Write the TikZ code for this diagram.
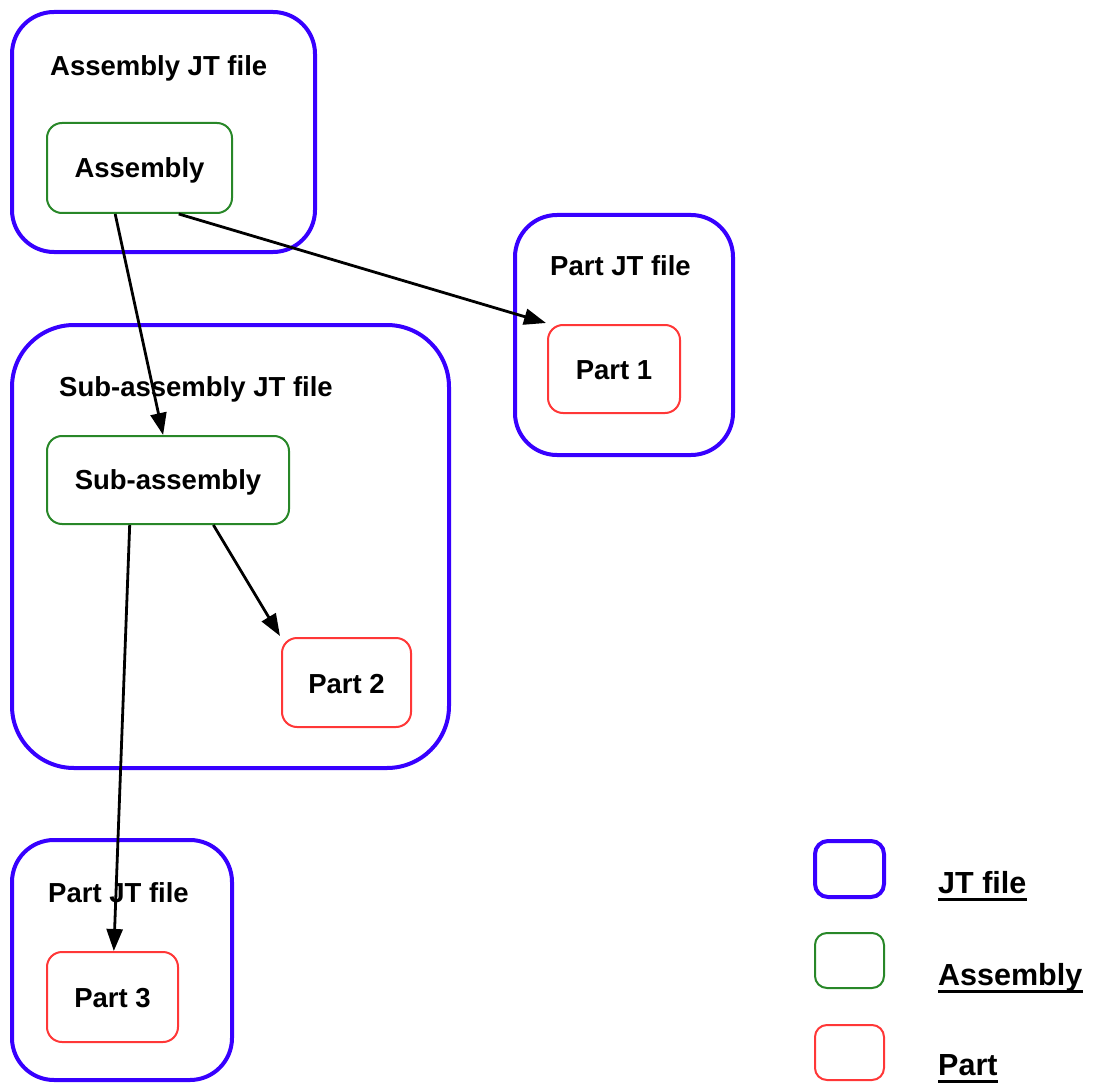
\documentclass[tikz,border=0pt]{standalone}
\usepackage{fontspec}
\setmainfont{Liberation Sans}
\usetikzlibrary{arrows.meta,calc}
\definecolor{jtblue}{RGB}{55,0,255}
\definecolor{asmgreen}{RGB}{40,135,40}
\definecolor{partred}{RGB}{255,55,55}
\tikzset{
  jtbox/.style={draw=jtblue, line width=4pt, rectangle, inner sep=0pt},
  asmbox/.style={draw=asmgreen, line width=2pt, rectangle, rounded corners=15pt, inner sep=0pt},
  partbox/.style={draw=partred, line width=2pt, rectangle, rounded corners=15pt, inner sep=0pt},
  lbl/.style={font=\fontsize{27.5}{33}\selectfont\bfseries, inner sep=0pt},
  leglbl/.style={font=\fontsize{30.5}{36}\selectfont\bfseries, inner sep=0pt},
  conn/.style={line width=2.8pt, -{Triangle[length=22pt,width=16pt]}},
  uline/.style={line width=3pt}
}
\begin{document}
\begin{tikzpicture}[x=1pt,y=-1pt]
\useasboundingbox (0,0) rectangle (1095,1086);
% JT file containers
\node[jtbox, rounded corners=42pt, minimum width=303pt, minimum height=240pt] (asmjt) at (163.5,132) {};
\node[jtbox, rounded corners=42pt, minimum width=218pt, minimum height=240pt] (p1jt) at (624,335) {};
\node[jtbox, rounded corners=62pt, minimum width=437pt, minimum height=443pt] (subjt) at (230.5,546.5) {};
\node[jtbox, rounded corners=42pt, minimum width=220pt, minimum height=240pt] (p3jt) at (122,960) {};
% titles
\node[lbl, anchor=base west] (tasm) at (50,76) {Assembly JT file};
\node[lbl, anchor=base west] (tp1) at (550,276) {Part JT file};
\node[lbl, anchor=base west] (tsub) at (59,396) {Sub-assembly JT file};
\node[lbl, anchor=base west] (tp3) at (48,902) {Part JT file};
% inner nodes
\node[asmbox, minimum width=185pt, minimum height=90pt] (asm) at (139.5,168) {};
\node[lbl] (asmt) at (139.5,170) {Assembly};
\node[asmbox, minimum width=242pt, minimum height=88pt] (sub) at (168,480) {};
\node[lbl] (subt) at (168,482) {Sub-assembly};
\node[partbox, minimum width=132pt, minimum height=88pt] (p1) at (614,369) {};
\node[lbl] (p1t) at (614,370) {Part 1};
\node[partbox, minimum width=129pt, minimum height=89pt] (p2) at (346.5,682.5) {};
\node[lbl] (p2t) at (346.5,684) {Part 2};
\node[partbox, minimum width=131pt, minimum height=90pt] (p3) at (112.5,997) {};
\node[lbl] (p3t) at (112.5,998) {Part 3};
% connectors
\draw[conn] ($(asm.south west)!0.37!(asm.south east)$) -- ($(sub.north west)!0.48!(sub.north east)$);
\draw[conn] ($(asm.south west)!0.71!(asm.south east)$) -- ([xshift=-1pt,yshift=1pt]p1.north west);
\draw[conn] ($(sub.south west)!0.686!(sub.south east)$) -- ([xshift=-1pt,yshift=1pt]p2.north west);
\draw[conn] ($(sub.south west)!0.343!(sub.south east)$) -- ($(p3.north west)!0.51!(p3.north east)$);
% legend
\node[jtbox, line width=4pt, rounded corners=13pt, minimum width=69pt, minimum height=56pt] (ljt) at (849.5,869) {};
\node[asmbox, rounded corners=12pt, minimum width=69pt, minimum height=55pt] (lasm) at (849.5,960.5) {};
\node[partbox, rounded corners=12pt, minimum width=69pt, minimum height=55pt] (lpart) at (849.5,1052.5) {};
\node[leglbl, anchor=base west] (ljtt) at (938,893) {JT file};
\node[leglbl, anchor=base west] (lasmt) at (938,985) {Assembly};
\node[leglbl, anchor=base west] (lpartt) at (938,1075) {Part};
\draw[uline] ([yshift=-6pt]ljtt.base west) -- ([yshift=-6pt]ljtt.base east);
\draw[uline] ([yshift=-6pt]lasmt.base west) -- ([yshift=-6pt]lasmt.base east);
\draw[uline] ([yshift=-6pt]lpartt.base west) -- ([yshift=-6pt]lpartt.base east);
\end{tikzpicture}
\end{document}
